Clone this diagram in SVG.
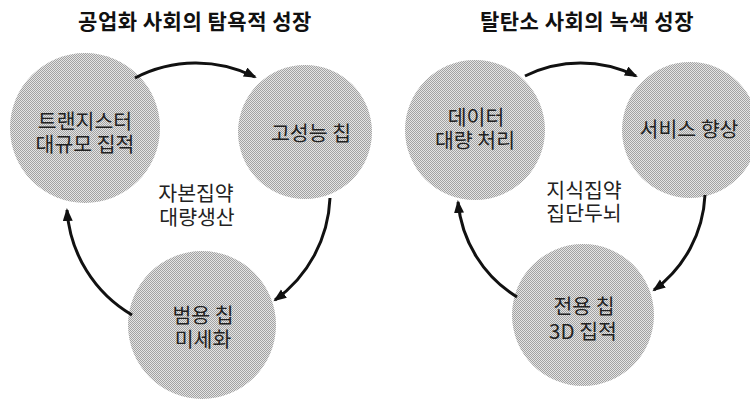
<svg xmlns="http://www.w3.org/2000/svg" width="750" height="399" viewBox="0 0 750 399">
  <style>
    .title { font-family: "Noto Sans CJK KR", "Noto Sans", sans-serif; font-size: 21px; letter-spacing: 0.5px; font-weight: bold; fill: #111; text-anchor: middle; }
    .lbl { font-family: "Noto Sans CJK KR", "Noto Sans", sans-serif; font-size: 20.5px; fill: #222; text-anchor: middle; dominant-baseline: central; }
    .node { fill: url(#ht); }
    .conn { fill: none; stroke: #111; stroke-width: 3; marker-end: url(#arr); }
  </style>
  <defs>
    <pattern id="ht" width="2" height="2" patternUnits="userSpaceOnUse">
      <rect width="2" height="2" fill="#e4e4e4"/>
      <rect width="1" height="1" fill="#a2a2a2"/>
      <rect x="1" y="1" width="1" height="1" fill="#a2a2a2"/>
    </pattern>
    <marker id="arr" markerUnits="userSpaceOnUse" markerWidth="14" markerHeight="12" refX="11" refY="5" orient="auto">
      <path d="M0,0 L13,5 L0,10 z" fill="#111"/>
    </marker>
  </defs>
  <rect width="750" height="399" fill="#ffffff"/>

  <text class="title" x="195" y="29">공업화 사회의 탐욕적 성장</text>
  <text class="title" x="587" y="29">탈탄소 사회의 녹색 성장</text>

  <g id="n1">
    <circle class="node" cx="85" cy="128" r="75"/>
    <text class="lbl"><tspan x="85" y="120">트랜지스터</tspan><tspan x="85" y="143">대규모 집적</tspan></text>
  </g>
  <g id="n2">
    <circle class="node" cx="305" cy="132" r="67"/>
    <text class="lbl" x="311" y="132">고성능 칩</text>
  </g>
  <g id="n3">
    <circle class="node" cx="202" cy="325" r="74"/>
    <text class="lbl"><tspan x="203" y="314">범용 칩</tspan><tspan x="203" y="338">미세화</tspan></text>
  </g>
  <g id="c-left">
    <text class="lbl"><tspan x="196" y="192">자본집약</tspan><tspan x="197" y="216">대량생산</tspan></text>
  </g>

  <g id="n4">
    <circle class="node" cx="475" cy="130" r="70"/>
    <text class="lbl"><tspan x="476" y="116">데이터</tspan><tspan x="475" y="139">대량 처리</tspan></text>
  </g>
  <g id="n5">
    <circle class="node" cx="690" cy="130" r="68"/>
    <text class="lbl" x="689" y="128">서비스 향상</text>
  </g>
  <g id="n6">
    <circle class="node" cx="583" cy="315" r="71"/>
    <text class="lbl"><tspan x="584" y="305">전용 칩</tspan><tspan x="583" y="330">3D 집적</tspan></text>
  </g>
  <g id="c-right">
    <text class="lbl"><tspan x="584" y="189">지식집약</tspan><tspan x="584" y="212">집단두뇌</tspan></text>
  </g>

  <g id="connectors">
    <path class="conn" d="M135,78 A132,132 0 0 1 255,77"/>
    <path class="conn" d="M330,198 A132,132 0 0 1 275,300"/>
    <path class="conn" d="M132,315 A132,132 0 0 1 67,210"/>
    <path class="conn" d="M525,76 A125,125 0 0 1 636,76"/>
    <path class="conn" d="M705,195 A125,125 0 0 1 654,290"/>
    <path class="conn" d="M517,297 A125,125 0 0 1 458,202"/>
  </g>
</svg>
